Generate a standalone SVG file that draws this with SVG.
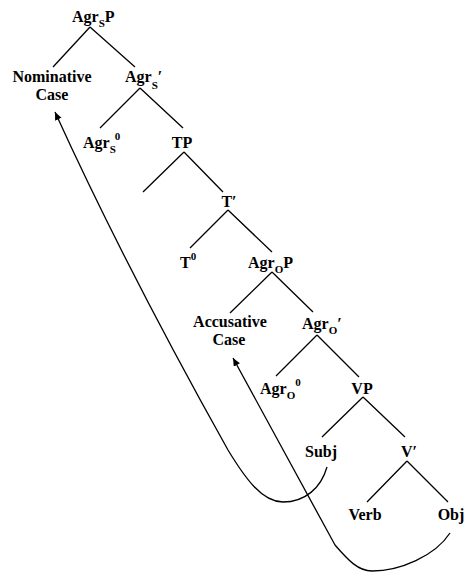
<svg xmlns="http://www.w3.org/2000/svg" width="466" height="572" viewBox="0 0 466 572">
<defs>
<style>
text{font-family:"Liberation Serif","Times New Roman",serif;font-weight:bold;font-size:16px;fill:#000}
.c{text-anchor:middle}
.sub{font-size:11px}
.edge{stroke:#000;stroke-width:1.3;fill:none}
.move{stroke:#000;stroke-width:1.3;fill:none;marker-end:url(#ah)}
</style>
<marker id="ah" markerUnits="userSpaceOnUse" markerWidth="10" markerHeight="8" refX="8" refY="3.5" orient="auto">
<path d="M0,0 L8,3.5 L0,7 Z" fill="#000"/>
</marker>
</defs>
<rect width="466" height="572" fill="#fff"/>
<g id="connectors">
<path class="edge" d="M90,27 L53,67 M90,27 L135,67"/>
<path class="edge" d="M140,88 L100,128 M140,88 L183,128"/>
<path class="edge" d="M184,152 L143,192 M184,152 L223,192"/>
<path class="edge" d="M228,210 L190,248 M228,210 L272,252"/>
<path class="edge" d="M272,272 L230,313 M272,272 L313,312"/>
<path class="edge" d="M317,335 L276,376 M317,335 L359,377"/>
<path class="edge" d="M363,397 L322,437 M363,397 L405,437"/>
<path class="edge" d="M407,461 L367,502 M407,461 L448,502"/>
<path class="move" d="M327,467 C321,488 305,502 283,502 C262,502 245,478 228,450 C200,400 120,255 55,112"/>
<path class="move" d="M450,533 C435,556 400,571 372,571 C358,571 348,560 335,545 L233,358"/>
</g>
<g id="AgrSP"><text x="72" y="22">Agr<tspan class="sub" dy="5">S</tspan><tspan dy="-5">P</tspan></text></g>
<g id="NominativeCase"><text class="c" x="52" y="82">Nominative</text><text class="c" x="52" y="100">Case</text></g>
<g id="AgrSbar"><text x="125" y="82">Agr<tspan class="sub" dy="7">S</tspan><tspan dy="-7">′</tspan></text></g>
<g id="AgrS0"><text x="83" y="148">Agr<tspan class="sub" dy="5">S</tspan><tspan class="sub" dy="-13" dx="-1">0</tspan></text></g>
<g id="TP"><text class="c" x="182" y="148">TP</text></g>
<g id="Tbar"><text class="c" x="229" y="207">T′</text></g>
<g id="T0"><text x="180" y="268">T<tspan class="sub" dy="-8">0</tspan></text></g>
<g id="AgrOP"><text x="248" y="268">Agr<tspan class="sub" dy="5">O</tspan><tspan dy="-5">P</tspan></text></g>
<g id="AccusativeCase"><text class="c" x="230" y="327">Accusative</text><text class="c" x="229" y="345">Case</text></g>
<g id="AgrObar"><text x="302" y="329">Agr<tspan class="sub" dy="5">O</tspan><tspan dy="-5">′</tspan></text></g>
<g id="AgrO0"><text x="260" y="394">Agr<tspan class="sub" dy="5">O</tspan><tspan class="sub" dy="-13">0</tspan></text></g>
<g id="VP"><text class="c" x="362" y="394">VP</text></g>
<g id="Subj"><text class="c" x="321" y="457">Subj</text></g>
<g id="Vbar"><text class="c" x="409" y="457">V′</text></g>
<g id="Verb"><text class="c" x="365" y="520">Verb</text></g>
<g id="Obj"><text class="c" x="451" y="520">Obj</text></g>
</svg>
